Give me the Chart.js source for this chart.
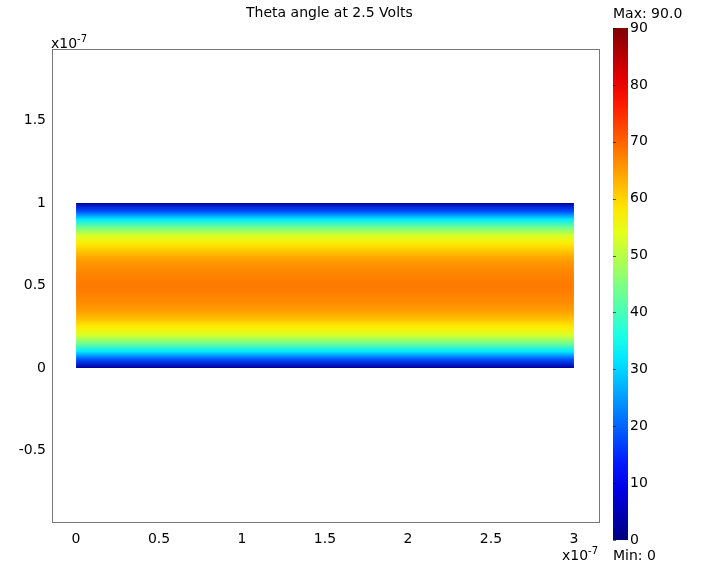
<!DOCTYPE html>
<html>
<head>
<meta charset="utf-8">
<script src="https://cdn.jsdelivr.net/npm/chart.js@4"></script>
<style>
  body { margin: 0; background: #fff; font-family: "DejaVu Sans", sans-serif; }
  #wrap { position: relative; width: 709px; height: 567px; }
  #main { position: absolute; left: 0; top: 0; }
  #bar { position: absolute; left: 600px; top: 0; }
  .lbl { position: absolute; font-size: 14px; color: #000; white-space: nowrap; }
  .lbl sup { font-size: 10px; }
</style>
</head>
<body>
<div id="wrap">
  <canvas id="main" width="709" height="567"></canvas>
  <canvas id="bar" width="109" height="567"></canvas>
  <div class="lbl" style="left:246px; top:4px;">Theta angle at 2.5 Volts</div>
  <div class="lbl" style="left:51px; top:33px;">x10<sup>-7</sup></div>
  <div class="lbl" style="left:562px; top:545px;">x10<sup>-7</sup></div>
  <div class="lbl" style="left:613px; top:5px;">Max: 90.0</div>
  <div class="lbl" style="left:613px; top:547px;">Min: 0</div>
</div>
<script>
// geometry of the domain, units of 1e-7 m
const domainX = [0, 3];
const domainY = [0, 1];

// theta (degrees) read across the layer thickness, bottom to top
const profileY = [0, 0.05, 0.1, 0.15, 0.2, 0.25, 0.3, 0.35, 0.4, 0.45, 0.5,
                  0.55, 0.6, 0.65, 0.7, 0.75, 0.8, 0.85, 0.9, 0.95, 1];
const profileTheta = [3, 18, 32, 44, 53, 58, 62, 65, 66.5, 67.5, 68,
                      67.5, 66.5, 65, 62, 58, 53, 44, 32, 18, 3];

const xTicks = [0, 0.5, 1, 1.5, 2, 2.5, 3];
const yTicks = [-0.5, 0, 0.5, 1, 1.5];
const colorRange = [0, 90];
const colorTicks = [0, 10, 20, 30, 40, 50, 60, 70, 80, 90];

const font = { family: '"DejaVu Sans", sans-serif', size: 14 };

function jet(v) {
  const c = x => Math.round(255 * Math.max(0, Math.min(1, x)));
  return `rgb(${c(1.5 - Math.abs(4 * v - 3))},${c(1.5 - Math.abs(4 * v - 2))},${c(1.5 - Math.abs(4 * v - 1))})`;
}

const frame = {
  id: 'frame',
  afterDraw(chart) {
    const a = chart.chartArea, ctx = chart.ctx;
    ctx.save();
    ctx.strokeStyle = '#777';
    ctx.lineWidth = 1;
    ctx.strokeRect(a.left + 0.5, a.top + 0.5, a.right - a.left - 1, a.bottom - a.top - 1);
    ctx.restore();
  }
};

// small tick marks on the left edge of the colour bar
const barTicks = {
  id: 'barTicks',
  afterDatasetsDraw(chart) {
    const a = chart.chartArea, ctx = chart.ctx, y = chart.scales.y;
    ctx.save();
    ctx.strokeStyle = 'rgba(0,0,0,0.6)';
    ctx.lineWidth = 1;
    colorTicks.forEach(v => {
      const py = Math.round(y.getPixelForValue(v)) + 0.5;
      ctx.beginPath();
      ctx.moveTo(a.left, py);
      ctx.lineTo(a.left + 3, py);
      ctx.stroke();
    });
    ctx.restore();
  }
};

new Chart(document.getElementById('main'), {
  type: 'line',
  data: {
    datasets: [{
      data: [{ x: domainX[0], y: domainY[1] }, { x: domainX[1], y: domainY[1] }],
      fill: { value: domainY[0] },
      borderWidth: 0,
      pointRadius: 0,
      backgroundColor: (ctx) => {
        const chart = ctx.chart;
        if (!chart.chartArea) return 'rgba(0,0,0,0)';
        const y = chart.scales.y;
        const g = chart.ctx.createLinearGradient(0, y.getPixelForValue(domainY[0]), 0, y.getPixelForValue(domainY[1]));
        profileY.forEach((p, i) => {
          g.addColorStop((p - domainY[0]) / (domainY[1] - domainY[0]),
            jet((profileTheta[i] - colorRange[0]) / (colorRange[1] - colorRange[0])));
        });
        return g;
      }
    }]
  },
  options: {
    responsive: false,
    animation: false,
    layout: { padding: { left: 0, top: 49, right: 109, bottom: 0 } },
    plugins: { legend: { display: false }, tooltip: { enabled: false } },
    scales: {
      x: {
        type: 'linear', min: -0.145, max: 3.157,
        afterBuildTicks: s => { s.ticks = xTicks.map(v => ({ value: v })); },
        afterFit: s => { s.height = 44; },
        grid: { display: false, drawTicks: false },
        border: { display: false },
        ticks: { font, color: '#000', padding: 8, maxRotation: 0, callback: v => String(v) }
      },
      y: {
        type: 'linear', min: -0.94, max: 1.933,
        afterBuildTicks: s => { s.ticks = yTicks.map(v => ({ value: v })); },
        afterFit: s => { s.width = 52; },
        grid: { display: false, drawTicks: false },
        border: { display: false },
        ticks: { font, color: '#000', padding: 6, callback: v => String(v) }
      }
    }
  },
  plugins: [frame]
});

new Chart(document.getElementById('bar'), {
  type: 'bar',
  data: {
    labels: ['theta'],
    datasets: [{
      data: [colorRange],
      barPercentage: 1,
      categoryPercentage: 1,
      backgroundColor: (ctx) => {
        const chart = ctx.chart;
        if (!chart.chartArea) return 'rgba(0,0,0,0)';
        const y = chart.scales.y;
        const g = chart.ctx.createLinearGradient(0, y.getPixelForValue(colorRange[0]), 0, y.getPixelForValue(colorRange[1]));
        for (let i = 0; i <= 20; i++) g.addColorStop(i / 20, jet(i / 20));
        return g;
      }
    }]
  },
  options: {
    responsive: false,
    animation: false,
    layout: { padding: { left: 13, top: 28, right: 0, bottom: 27 } },
    plugins: { legend: { display: false }, tooltip: { enabled: false } },
    scales: {
      x: { display: false },
      y: {
        position: 'right', min: colorRange[0], max: colorRange[1],
        afterBuildTicks: s => { s.ticks = colorTicks.map(v => ({ value: v })); },
        afterFit: s => { s.width = 81; },
        grid: { display: false, drawTicks: false },
        border: { display: false },
        ticks: { font, color: '#000', padding: 2 }
      }
    }
  },
  plugins: [barTicks]
});
</script>
</body>
</html>
